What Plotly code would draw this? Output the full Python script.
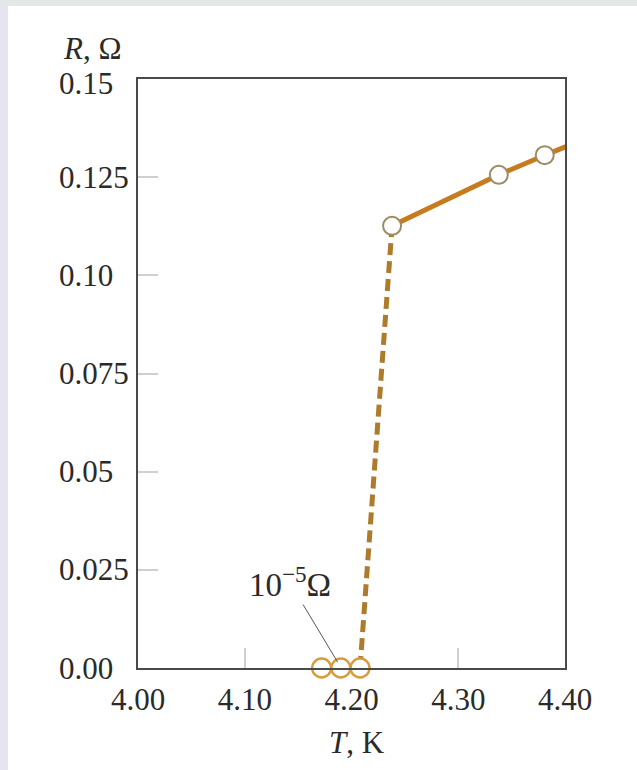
import plotly.graph_objects as go

# ---- data ----
T_super = [4.172, 4.190, 4.208]          # superconducting points, K
R_super = [0.0, 0.0, 0.0]                # ohm (about 1e-5)
T_trans = [4.208, 4.238]                 # dashed transition
R_trans = [0.0, 0.1126]
T_normal = [4.238, 4.338, 4.381]         # normal-state points
R_normal = [0.1126, 0.1256, 0.1306]
T_line_end = [4.41]                      # line runs off the right edge
R_line_end = [0.1338]

x_tick_vals = [4.00, 4.10, 4.20, 4.30, 4.40]
x_tick_text = ["4.00", "4.10", "4.20", "4.30", "4.40"]
x_tick_marks = [4.10, 4.30]              # tick marks drawn inside the frame
y_tick_vals = [0.0, 0.025, 0.05, 0.075, 0.10, 0.125, 0.15]
y_tick_text = ["0.00", "0.025", "0.05", "0.075", "0.10", "0.125", "0.15"]

FONT = "Liberation Serif"
TXT = "#2a2a2a"
ORANGE = "#c67c1e"
DASHC = "#ad7b2c"
FS = 31

W, H = 637, 770
L, R, TOP, B = 138, 72, 79, 102
pw, ph = W - L - R, H - TOP - B

fig = go.Figure()

# dashed transition
fig.add_trace(go.Scatter(x=T_trans, y=R_trans, mode="lines",
                         line=dict(color=DASHC, width=5, dash="12px,6px"),
                         hoverinfo="skip", showlegend=False))
# solid normal-state line
fig.add_trace(go.Scatter(x=T_normal + T_line_end, y=R_normal + R_line_end, mode="lines",
                         line=dict(color=ORANGE, width=5),
                         hoverinfo="skip", showlegend=False))
# normal-state markers
fig.add_trace(go.Scatter(x=T_normal, y=R_normal, mode="markers",
                         marker=dict(size=18, color="white",
                                     line=dict(color="#9b8c66", width=2)),
                         showlegend=False, cliponaxis=False))
# superconducting markers
fig.add_trace(go.Scatter(x=T_super, y=R_super, mode="markers",
                         marker=dict(size=19, color="white",
                                     line=dict(color="#d79c3c", width=2.4)),
                         showlegend=False, cliponaxis=False))

annotations = []
for v, t in zip(y_tick_vals, y_tick_text):
    annotations.append(dict(x=(57 - L) / pw, xref="paper", xanchor="left",
                            y=v, yref="y", yanchor="middle", text=t, showarrow=False,
                            yshift=(-4 if v == 0.15 else 0),
                            font=dict(family=FONT, size=FS, color=TXT)))
# axis titles
annotations.append(dict(x=(61 - L) / pw, xref="paper", xanchor="left",
                        y=(H - B - 48) / ph, yref="paper", yanchor="middle",
                        text="<i>R</i>, Ω", showarrow=False,
                        font=dict(family=FONT, size=FS, color=TXT)))
annotations.append(dict(x=(357 - L) / pw, xref="paper", xanchor="center",
                        y=(H - B - 742) / ph, yref="paper", yanchor="middle",
                        text="<i>T</i>, K", showarrow=False,
                        font=dict(family=FONT, size=FS, color=TXT)))
# 10^-5 ohm label with leader
annotations.append(dict(x=T_super[1] - 0.003, y=0.0015, xref="x", yref="y",
                        text="10<sup>−5</sup>Ω", showarrow=True, arrowhead=0,
                        arrowwidth=1, arrowcolor="#555", ax=-48, ay=-80,
                        font=dict(family=FONT, size=33, color=TXT)))

shapes = [
    dict(type="rect", xref="paper", yref="paper", layer="below",
         x0=(0 - L) / pw, x1=(8 - L) / pw, y0=(H - B - H) / ph, y1=(H - B) / ph,
         fillcolor="#e6e3f3", line=dict(width=0)),
    dict(type="rect", xref="paper", yref="paper", layer="below",
         x0=(0 - L) / pw, x1=(W - L) / pw, y0=(H - B - 6) / ph, y1=(H - B) / ph,
         fillcolor="#e3e8e7", line=dict(width=0)),
]

fig.update_layout(
    width=W, height=H, margin=dict(l=L, r=R, t=TOP, b=B),
    paper_bgcolor="white", plot_bgcolor="white",
    font=dict(family=FONT, size=FS, color=TXT),
    annotations=annotations, shapes=shapes, showlegend=False,
)
fig.update_xaxes(range=[4.0, 4.4], tickvals=x_tick_vals, ticktext=x_tick_text,
                 ticks="", 
                 minor=dict(tickvals=x_tick_marks, ticks="inside", ticklen=20,
                            tickcolor="#d0d0d0", tickwidth=1.5, showgrid=False),
                 showgrid=False, zeroline=False, showline=True, mirror=True,
                 linecolor="#4a4a4a", linewidth=2,
                 tickfont=dict(family=FONT, size=FS, color=TXT), ticklabelstandoff=3)
fig.update_yaxes(range=[0.0, 0.15], tickvals=y_tick_vals,
                 ticks="inside", ticklen=20, tickcolor="#d0d0d0", tickwidth=1.5,
                 showticklabels=False,
                 showgrid=False, zeroline=False, showline=True, mirror=True,
                 linecolor="#4a4a4a", linewidth=2)

fig.write_html("out.html", config={"displayModeBar": False},
               post_script="document.body.style.margin='0';document.body.style.overflow='hidden';")
